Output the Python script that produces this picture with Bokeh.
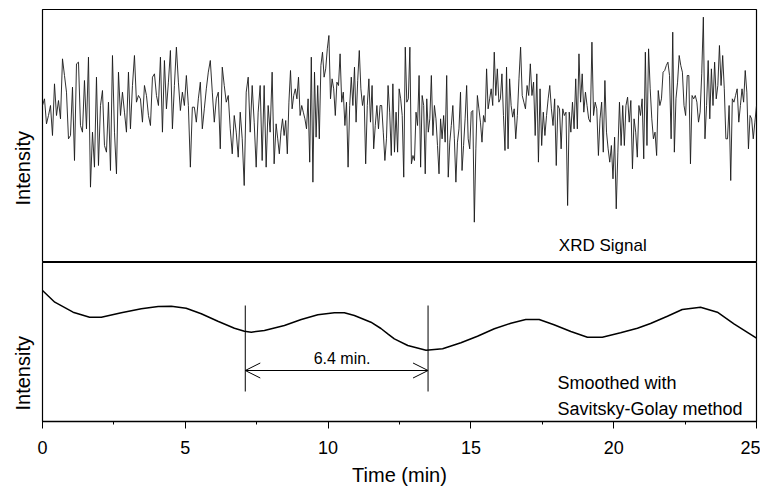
import numpy as np
from bokeh.plotting import figure
from bokeh.layouts import column
from bokeh.models import Range1d, SingleIntervalTicker, Label, Arrow, OpenHead, Title
from bokeh.embed import file_html
from bokeh.resources import INLINE

# ---------------- data ----------------
# raw XRD signal, read in six consecutive time windows (minutes)
segment_edges = [0.0, 3.99, 8.18, 12.38, 16.57, 20.77, 25.0]
seg1 = [500, 520, 445, 470, 500, 410, 565, 470, 515, 460, 640, 590, 540, 400, 410, 555, 335, 625, 630, 440,
        420, 575, 430, 645, 255, 420, 315, 585, 320, 500, 545, 380, 360, 510, 305, 650, 420, 295, 600, 470,
        540, 480, 420, 600, 430, 560, 650, 510, 530, 520, 450, 560, 530, 470, 440, 585, 595]
seg2 = [530, 500, 645, 420, 635, 490, 570, 665, 430, 560, 675, 570, 485, 540, 500, 590, 500, 315, 495, 495,
        450, 520, 570, 430, 490, 550, 600, 635, 540, 450, 520, 540, 370, 615, 560, 510, 530, 430, 355, 470,
        420, 345, 480, 400, 260, 540, 585, 420, 560, 450, 315, 480, 560, 335, 560, 315, 500, 420, 600, 325]
seg3 = [445, 400, 355, 420, 460, 410, 455, 355, 510, 605, 490, 530, 550, 520, 585, 470, 500, 480, 460, 430,
        520, 330, 645, 270, 600, 405, 560, 400, 620, 660, 585, 610, 670, 710, 520, 580, 550, 470, 570, 560,
        655, 510, 540, 440, 510, 315, 500, 585, 500, 615, 450, 575, 665, 550, 500, 530, 325, 500, 580, 450,
        560, 370, 440, 500, 430, 500, 500, 420, 335, 400, 560, 480, 350, 565, 360]
seg4 = [480, 360, 550, 520, 470, 285, 675, 510, 520, 675, 325, 350, 335, 480, 440, 590, 315, 530, 500, 295,
        520, 420, 460, 590, 410, 500, 460, 380, 295, 460, 400, 470, 390, 590, 285, 390, 440, 500, 400, 270,
        390, 430, 540, 305, 380, 460, 560, 400, 370, 480, 485, 150, 370, 530, 490, 450, 390, 470, 450, 610,
        490, 520, 550, 500, 660, 530, 610, 510, 520, 595, 470, 365, 615, 370, 580, 500, 465, 490]
seg5 = [400, 470, 580, 675, 530, 510, 490, 560, 530, 625, 530, 570, 410, 595, 330, 550, 380, 480, 410, 470,
        520, 560, 490, 440, 520, 320, 500, 490, 370, 490, 470, 480, 200, 480, 420, 510, 430, 580, 430, 655,
        510, 595, 480, 540, 500, 460, 450, 690, 470, 510, 490, 350, 460, 510, 360, 575, 420, 370, 330, 380,
        280, 405, 190, 360, 510, 380, 500, 380, 500, 525, 450, 515, 310, 460]
seg6 = [420, 345, 500, 470, 520, 340, 660, 380, 670, 550, 460, 400, 420, 350, 545, 500, 520, 600, 605, 620,
        630, 590, 400, 720, 360, 520, 570, 650, 620, 600, 500, 470, 590, 590, 325, 530, 520, 530, 510, 450,
        480, 595, 765, 400, 500, 635, 460, 610, 500, 630, 520, 560, 680, 560, 650, 550, 400, 400, 500, 275,
        520, 510, 530, 550, 450, 500, 550, 510, 605, 540, 370, 470, 460, 400, 450, 500]
signal_segments = [seg1, seg2, seg3, seg4, seg5, seg6]

# Savitsky-Golay smoothed curve
smooth_time = [0.0, 0.43, 1.07, 1.65, 2.06, 2.76, 3.46, 4.05, 4.51, 5.03, 5.56, 6.14, 6.72, 7.07, 7.31, 7.77,
               8.47, 9.06, 9.64, 10.22, 10.57, 10.92, 11.5, 11.85, 12.09, 12.32, 12.79, 13.43, 14.01, 14.65,
               15.23, 15.82, 16.4, 16.92, 17.39, 17.91, 18.5, 19.08, 19.6, 20.24, 20.83, 21.29, 21.88, 22.4,
               23.04, 23.63, 24.21, 25.0]
smooth_intensity = [131, 119.3, 109.3, 104.3, 104.3, 108.7, 112.7, 115, 115.3, 113.3, 107.7, 100.3, 93.3, 90.3,
                    89.3, 91, 96, 102, 106.7, 108.7, 108.7, 106, 99.3, 93, 87.7, 82.7, 76, 71.3, 72.7, 78.7,
                    85.3, 92.7, 98.3, 102, 102, 96.7, 90, 84.3, 84.3, 88.7, 93.3, 98, 105.3, 112, 114.3, 109.3,
                    97.7, 83.3]

marker_times = [7.1, 13.5]          # minima used for the period
period_text = "6.4 min."

# ---------------- build ----------------
FONT = "Liberation Sans"

time_parts = []
for i, seg in enumerate(signal_segments):
    last = i == len(signal_segments) - 1
    time_parts.append(np.linspace(segment_edges[i], segment_edges[i + 1], len(seg), endpoint=last))
signal_time = np.concatenate(time_parts)
signal_intensity = np.concatenate([np.asarray(s, dtype=float) for s in signal_segments])

x_range = Range1d(0, 25)


def intensity_title(offset):
    return Title(text="Intensity", align="left", offset=offset, text_font=FONT, text_font_size="20px",
                 text_font_style="normal", text_color="black", standoff=18)


p1 = figure(width=760, height=262, x_range=x_range, y_range=Range1d(29, 788),
            output_backend="svg", toolbar_location=None, x_axis_location=None, y_axis_location=None,
            min_border_left=41, min_border_right=4, min_border_top=9, min_border_bottom=0)
p1.grid.visible = False
p1.outline_line_color = "black"
p1.outline_line_width = 1.2
p1.background_fill_color = "white"
p1.border_fill_color = "white"
p1.add_layout(intensity_title(57), "left")
p1.line(signal_time, signal_intensity, line_color="#1a1a1a", line_width=0.9)

p1.add_layout(Label(x=18.08, y=80, text="XRD Signal", text_font=FONT, text_font_size="17px",
                    text_color="black", text_baseline="alphabetic", text_align="left"))

p2 = figure(width=760, height=228, x_range=x_range, y_range=Range1d(0, 159),
            output_backend="svg", toolbar_location=None, y_axis_location=None,
            min_border_left=41, min_border_right=4, min_border_top=0, min_border_bottom=69)
p2.grid.visible = False
p2.outline_line_color = "black"
p2.outline_line_width = 1.2
p2.background_fill_color = "white"
p2.border_fill_color = "white"
p2.add_layout(intensity_title(11), "left")

ax = p2.xaxis[0]
ax.ticker = SingleIntervalTicker(interval=5, num_minor_ticks=2)
ax.axis_line_width = 1.5
ax.axis_line_color = "black"
ax.major_tick_out = 7
ax.major_tick_in = 0
ax.minor_tick_out = 3
ax.minor_tick_in = 0
ax.major_tick_line_color = "black"
ax.minor_tick_line_color = "black"
ax.major_label_text_font = FONT
ax.major_label_text_font_size = "18px"
ax.major_label_text_color = "black"
ax.major_label_standoff = 12
ax.axis_label = "Time (min)"
ax.axis_label_text_font = FONT
ax.axis_label_text_font_size = "20px"
ax.axis_label_text_font_style = "normal"
ax.axis_label_text_color = "black"
ax.axis_label_standoff = 7

p2.line(smooth_time, smooth_intensity, line_color="black", line_width=1.5)

marker_top, marker_bottom, arrow_level = 116, 30, 51
p2.segment(x0=marker_times, y0=[marker_top] * 2, x1=marker_times, y1=[marker_bottom] * 2,
           line_color="black", line_width=1)
p2.add_layout(Arrow(x_start=marker_times[0], y_start=arrow_level, x_end=marker_times[1], y_end=arrow_level,
                    line_color="black", line_width=1,
                    start=OpenHead(size=15, line_width=1, line_color="black"),
                    end=OpenHead(size=15, line_width=1, line_color="black")))
p2.add_layout(Label(x=10.49, y=63, text=period_text, text_font=FONT, text_font_size="16px",
                    text_align="center", text_baseline="alphabetic", text_color="black"))
p2.add_layout(Label(x=18.03, y=38.5, text="Smoothed with", text_font=FONT, text_font_size="18px",
                    text_align="left", text_baseline="alphabetic", text_color="black"))
p2.add_layout(Label(x=18.03, y=13, text="Savitsky-Golay method", text_font=FONT, text_font_size="18px",
                    text_align="left", text_baseline="alphabetic", text_color="black"))

layout = column(p1, p2)
open("out.html", "w").write(file_html(layout, INLINE))
